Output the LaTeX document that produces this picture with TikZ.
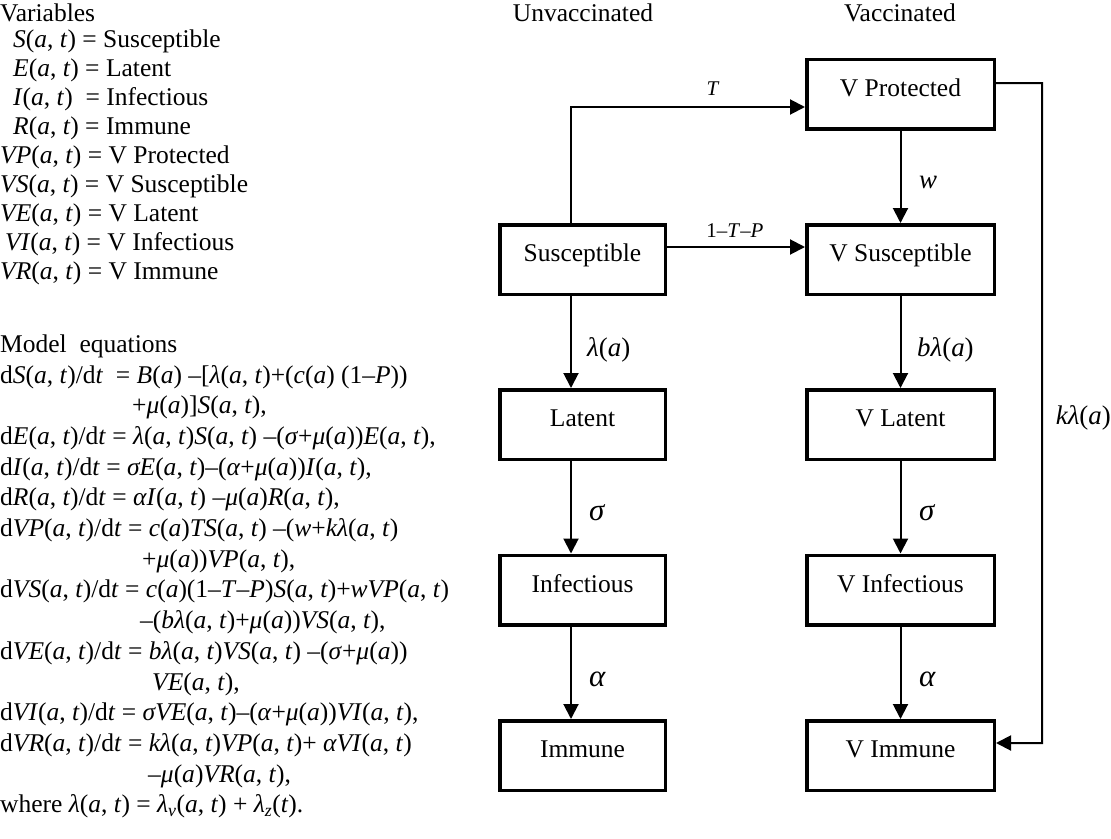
\documentclass[tikz,border=0pt]{standalone}
\usepackage{fontspec}
\setmainfont{Liberation Serif}
\usetikzlibrary{arrows.meta}
\newcommand\iv[1]{\textit{#1}}
\newcommand\AT{(\iv{a}, \iv{t})}
\newcommand\PA{(\iv{a})}
\begin{document}
\begin{tikzpicture}[x=1bp,y=-1bp,font=\fontsize{25.6}{30}\selectfont]
\tikzset{
  box/.style={draw, line width=3.5bp, minimum height=69.5bp, text height=20bp, text depth=16bp, inner sep=0pt},
  lbox/.style={box, minimum width=165.5bp},
  rbox/.style={box, minimum width=187.5bp},
  flow/.style={line width=2bp, -{Triangle[length=15bp,width=15bp]}},
  txt/.style={anchor=base west, inner sep=0pt},
  hdr/.style={anchor=base, inner sep=0pt},
  slab/.style={anchor=base, inner sep=0pt, font=\fontsize{21}{24}\selectfont},
  glab/.style={anchor=base west, inner sep=0pt, font=\fontsize{27}{30}\selectfont},
  gbig/.style={anchor=base west, inner sep=0pt, font=\fontsize{31}{34}\selectfont}
}
\useasboundingbox (0,0) rectangle (1111,839);

% Variables
\node[txt] (v0) at (0,21) {Variables};
\node[txt] (v1) at (13,47) {\iv{S}\AT{} = Susceptible};
\node[txt] (v2) at (13,76) {\iv{E}\AT{} = Latent};
\node[txt] (v3) at (13,105) {\iv{I}\AT{}\ \ = Infectious};
\node[txt] (v4) at (13,134) {\iv{R}\AT{} = Immune};
\node[txt] (v5) at (0,163) {\iv{VP}\AT{} = V Protected};
\node[txt] (v6) at (0,192) {\iv{VS}\AT{} = V Susceptible};
\node[txt] (v7) at (0,221) {\iv{VE}\AT{} = V Latent};
\node[txt] (v8) at (5,250) {\iv{VI}\AT{} = V Infectious};
\node[txt] (v9) at (0,279) {\iv{VR}\AT{} = V Immune};

% Model equations
\node[txt] (m0) at (0,352) {Model\ \ equations};
\node[txt] (m1) at (0,383) {d\iv{S}\AT/d\iv{t}\ \ = \iv{B}\PA{} –[\iv{λ}\AT+(\iv{c}\PA{} (1–\iv{P}))};
\node[txt] (m2) at (132,413.7) {+\iv{μ}\PA]\iv{S}\AT,};
\node[txt] (m3) at (0,444.4) {d\iv{E}\AT/d\iv{t} = \iv{λ}\AT\iv{S}\AT{} –(\iv{σ}+\iv{μ}\PA)\iv{E}\AT,};
\node[txt] (m4) at (0,475.1) {d\iv{I}\AT/d\iv{t} = \iv{σE}\AT–(\iv{α}+\iv{μ}\PA)\iv{I}\AT,};
\node[txt] (m5) at (0,505.8) {d\iv{R}\AT/d\iv{t} = \iv{αI}\AT{} –\iv{μ}\PA\iv{R}\AT,};
\node[txt] (m6) at (0,536.5) {d\iv{VP}\AT/d\iv{t} = \iv{c}\PA\iv{TS}\AT{} –(\iv{w}+\iv{kλ}\AT};
\node[txt] (m7) at (142,567.2) {+\iv{μ}\PA)\iv{VP}\AT,};
\node[txt] (m8) at (0,597.9) {d\iv{VS}\AT/d\iv{t} = \iv{c}\PA(1–\iv{T}–\iv{P})\iv{S}\AT+\iv{wVP}\AT};
\node[txt] (m9) at (140,628.6) {–(\iv{bλ}\AT+\iv{μ}\PA)\iv{VS}\AT,};
\node[txt] (m10) at (0,659.3) {d\iv{VE}\AT/d\iv{t} = \iv{bλ}\AT\iv{VS}\AT{} –(\iv{σ}+\iv{μ}\PA)};
\node[txt] (m11) at (152,690) {\iv{VE}\AT,};
\node[txt] (m12) at (0,720.7) {d\iv{VI}\AT/d\iv{t} = \iv{σVE}\AT–(\iv{α}+\iv{μ}\PA)\iv{VI}\AT,};
\node[txt] (m13) at (0,751.4) {d\iv{VR}\AT/d\iv{t} = \iv{kλ}\AT\iv{VP}\AT+ \iv{αVI}\AT};
\node[txt] (m14) at (148,782.1) {–\iv{μ}\PA\iv{VR}\AT,};
\node[txt] (m15) at (0,812.8) {where \iv{λ}\AT{} = \iv{λ}\textsubscript{\iv{v}}\AT{} + \iv{λ}\textsubscript{\iv{z}}(\iv{t}).};

% Headers
\node[hdr] (hu) at (583,21) {Unvaccinated};
\node[hdr] (hv) at (900,21) {Vaccinated};

% Boxes
\node[lbox] (S) at (582.5,259.5) {Susceptible};
\node[lbox] (E) at (582.5,424.5) {Latent};
\node[lbox] (I) at (582.5,590) {Infectious};
\node[lbox] (R) at (582.5,755.5) {Immune};
\node[rbox] (VP) at (900.5,94) {V Protected};
\node[rbox] (VS) at (900.5,259.5) {V Susceptible};
\node[rbox] (VE) at (900.5,424.5) {V Latent};
\node[rbox] (VI) at (900.5,590) {V Infectious};
\node[rbox] (VR) at (900.5,755.5) {V Immune};

% Connectors
\draw[flow] ([xshift=-11.5bp]S.south) -- ([xshift=-11.5bp]E.north);
\draw[flow] ([xshift=-11.5bp]E.south) -- ([xshift=-11.5bp]I.north);
\draw[flow] ([xshift=-11.5bp]I.south) -- ([xshift=-11.5bp]R.north);
\draw[flow] (VP.south) -- (VS.north);
\draw[flow] (VS.south) -- (VE.north);
\draw[flow] (VE.south) -- (VI.north);
\draw[flow] (VI.south) -- (VR.north);
\draw[flow] ([xshift=-11.5bp]S.north) |- ([yshift=-13bp]VP.west);
\draw[flow] ([yshift=12.5bp]S.east) -- ([yshift=12.5bp]VS.west);
\coordinate (kc) at (1042,83);
\draw[flow] ([yshift=11bp]VP.east) -- (kc) |- ([yshift=12.5bp]VR.east);

% Labels
\node[slab] (lT) at (713,95) {\iv{T}};
\node[slab] (lTP) at (735,237) {1–\iv{T}–\iv{P}};
\node[glab] (lw) at (919,188) {\iv{w}};
\node[glab] (l1) at (587,356) {\iv{λ}\PA};
\node[glab] (l2) at (917,356) {\iv{bλ}\PA};
\node[glab, anchor=base east] (l3) at (1111,424) {\iv{kλ}\PA};
\node[gbig] (s1) at (589,520) {\iv{σ}};
\node[gbig] (s2) at (919,520) {\iv{σ}};
\node[gbig] (a1) at (589,686) {\iv{α}};
\node[gbig] (a2) at (919,686) {\iv{α}};
\end{tikzpicture}
\end{document}
